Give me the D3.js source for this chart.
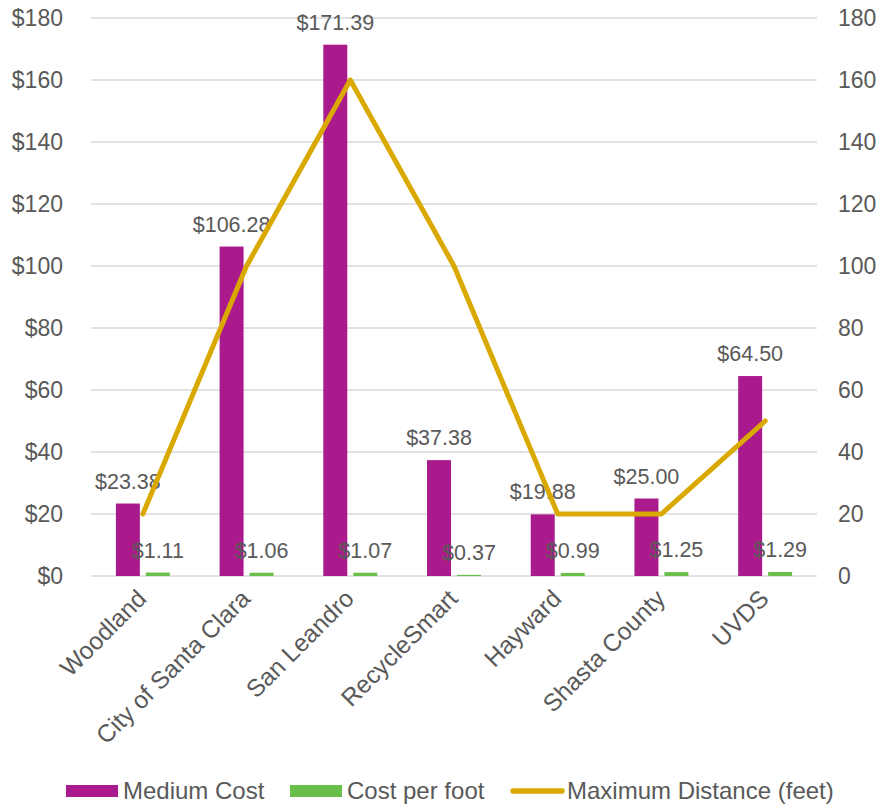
<!DOCTYPE html>
<html>
  <head>
    <meta charset="UTF-8">
    <title>Cost and Distance</title>
    <style>
      body { margin: 0; background: #fff; }
      svg text { font-family: "Liberation Sans", Arial, sans-serif; fill: #595959; }
    </style>
  </head>
  <body>
    <script src="https://d3js.org/d3.v7.min.js"></script>
    <svg width="881" height="808" id="chart"></svg>
    <script>
      // data
      var categories = ["Woodland", "City of Santa Clara", "San Leandro", "RecycleSmart", "Hayward", "Shasta County", "UVDS"];
      var mediumCost = [23.38, 106.28, 171.39, 37.38, 19.88, 25.00, 64.50];
      var costPerFoot = [1.11, 1.06, 1.07, 0.37, 0.99, 1.25, 1.29];
      var maxDistance = [20, 100, 160, 100, 20, 20, 50];
      var yTicks = [0, 20, 40, 60, 80, 100, 120, 140, 160, 180];

      var purple = "#AB1A8C", green = "#6ABF4B", gold = "#DAA900";

      var svg = d3.select("#chart");

      var x = d3.scaleBand().domain(categories).range([91, 817]);
      var band = x.bandwidth();
      var sub = d3.scaleBand().domain(["medium", "perFoot"])
                  .range([-band * 0.26, band * 0.26]).paddingInner(0.2);
      var y = d3.scaleLinear().domain([0, 180]).range([576, 18]);
      var yRight = d3.scaleLinear().domain([0, 180]).range([576, 18]);

      // gridlines
      svg.append("g").selectAll("line")
        .data(yTicks).enter().append("line")
        .attr("x1", 91).attr("x2", 817)
        .attr("y1", function(d) { return y(d); })
        .attr("y2", function(d) { return y(d); })
        .attr("stroke", "#d9d9d9").attr("stroke-width", 1.5);

      // left axis
      var left = svg.append("g").attr("transform", "translate(63,0)")
        .call(d3.axisLeft(y).tickValues(yTicks).tickSize(0).tickPadding(0)
          .tickFormat(function(d) { return "$" + d; }));
      left.select(".domain").remove();
      left.selectAll("text").style("font-size", "23px").attr("fill", "#595959");

      // right axis
      var right = svg.append("g").attr("transform", "translate(838,0)")
        .call(d3.axisRight(yRight).tickValues(yTicks).tickSize(0).tickPadding(0));
      right.select(".domain").remove();
      right.selectAll("text").style("font-size", "23px").attr("fill", "#595959");

      // category labels
      svg.append("g").selectAll("text")
        .data(categories).enter().append("text")
        .attr("transform", function(d) {
          return "translate(" + (x(d) + band / 2 - 7) + ",588) rotate(-45)";
        })
        .attr("text-anchor", "end")
        .attr("dy", "0.7em")
        .style("font-size", "24.5px")
        .text(function(d) { return d; });

      // bars
      var groups = svg.append("g").selectAll("g")
        .data(categories).enter().append("g")
        .attr("transform", function(d) { return "translate(" + (x(d) + band / 2) + ",0)"; });

      groups.append("rect")
        .attr("x", sub("medium"))
        .attr("width", sub.bandwidth())
        .attr("y", function(d, i) { return y(mediumCost[i]); })
        .attr("height", function(d, i) { return y(0) - y(mediumCost[i]); })
        .attr("fill", purple);

      groups.append("rect")
        .attr("x", sub("perFoot"))
        .attr("width", sub.bandwidth())
        .attr("y", function(d, i) { return y(costPerFoot[i]); })
        .attr("height", function(d, i) { return y(0) - y(costPerFoot[i]); })
        .attr("fill", green);

      // line on the right axis
      var line = d3.line()
        .x(function(d, i) { return x(categories[i]) + band / 2; })
        .y(function(d) { return yRight(d); });

      svg.append("path")
        .datum(maxDistance)
        .attr("d", line)
        .attr("fill", "none")
        .attr("stroke", gold)
        .attr("stroke-width", 5)
        .attr("stroke-linecap", "round")
        .attr("stroke-linejoin", "round");

      // data labels
      groups.append("text")
        .attr("x", sub("medium") + sub.bandwidth() / 2)
        .attr("y", function(d, i) { return y(mediumCost[i]) - 15; })
        .attr("text-anchor", "middle")
        .style("font-size", "21.5px")
        .text(function(d, i) { return "$" + mediumCost[i].toFixed(2); });

      groups.append("text")
        .attr("x", sub("perFoot") + sub.bandwidth() / 2)
        .attr("y", function(d, i) { return y(costPerFoot[i]) - 15; })
        .attr("text-anchor", "middle")
        .style("font-size", "21.5px")
        .text(function(d, i) { return "$" + costPerFoot[i].toFixed(2); });

      // legend
      var legendItems = [
        {name: "Medium Cost", color: purple, type: "rect", x: 66},
        {name: "Cost per foot", color: green, type: "rect", x: 290},
        {name: "Maximum Distance (feet)", color: gold, type: "line", x: 510}
      ];
      var legend = svg.append("g").selectAll("g")
        .data(legendItems).enter().append("g")
        .attr("transform", function(d) { return "translate(" + d.x + ",791)"; });

      legend.filter(function(d) { return d.type == "rect"; })
        .append("rect")
        .attr("x", 0).attr("y", -6).attr("width", 52).attr("height", 12)
        .attr("fill", function(d) { return d.color; });

      legend.filter(function(d) { return d.type == "line"; })
        .append("line")
        .attr("x1", 3).attr("x2", 52).attr("y1", 0).attr("y2", 0)
        .attr("stroke", function(d) { return d.color; })
        .attr("stroke-width", 5.5)
        .attr("stroke-linecap", "round");

      legend.append("text")
        .attr("x", 57).attr("dy", "0.35em")
        .style("font-size", "24px")
        .text(function(d) { return d.name; });
    </script>
  </body>
</html>
